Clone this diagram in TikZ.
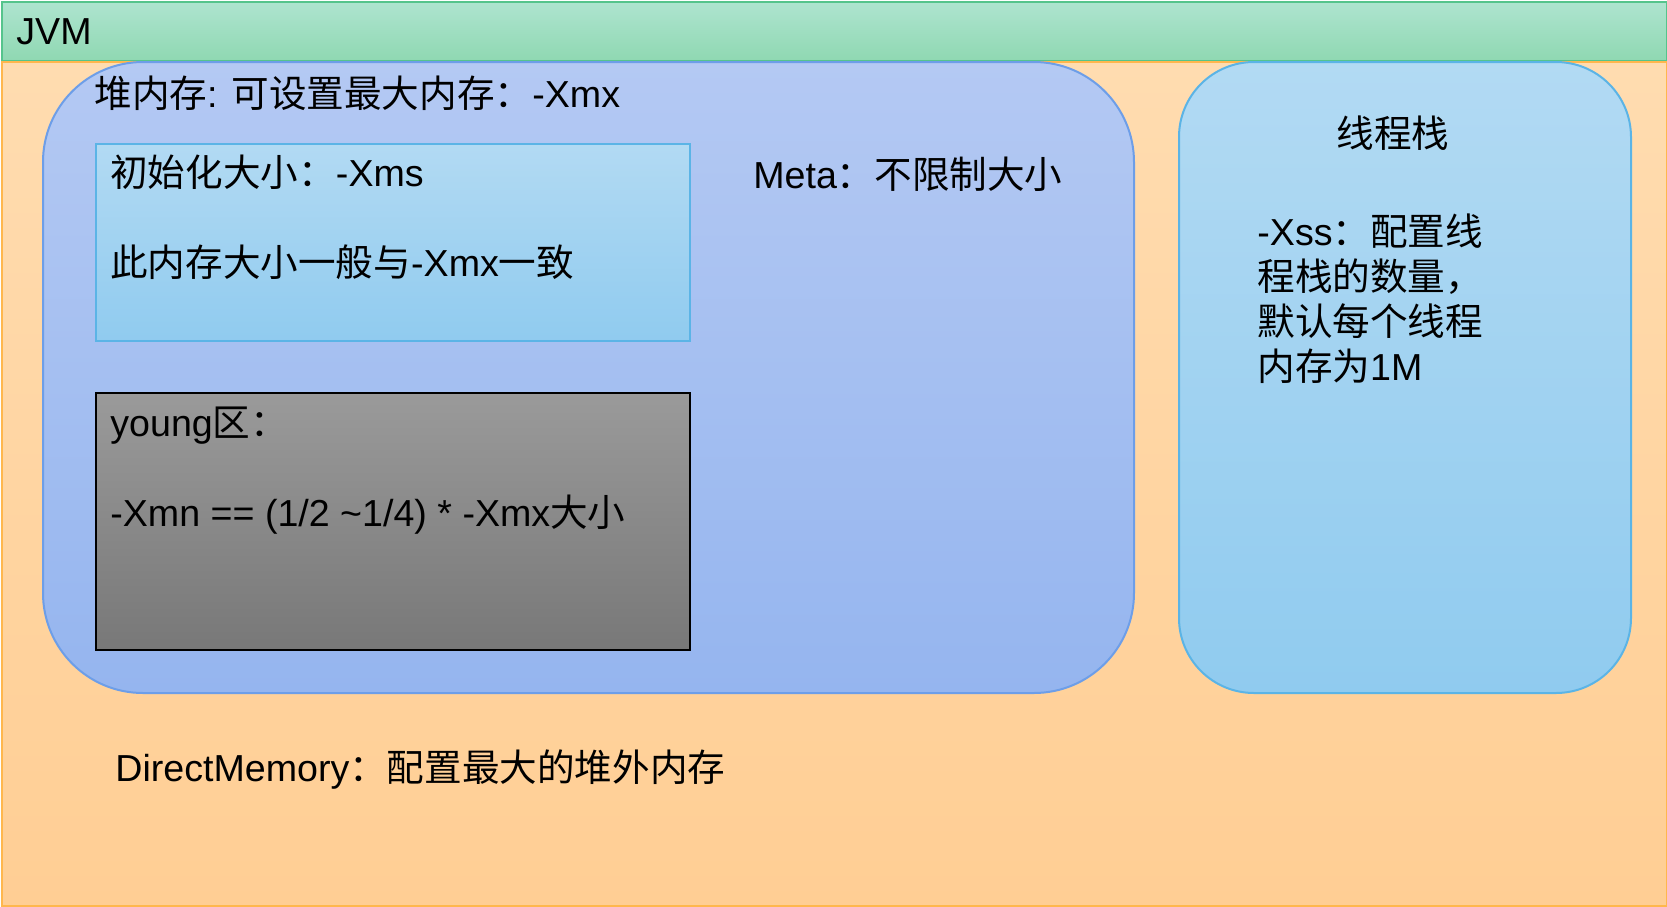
\documentclass[tikz,border=0pt]{standalone}
\usepackage{fontspec}
\setmainfont{Liberation Sans}
\newfontfamily\cjk{Noto Sans CJK SC}
\newcommand{\zht}[1]{{\cjk #1}}
\usetikzlibrary{positioning}
\definecolor{cmintT}{HTML}{AEE4CF}
\definecolor{cmintB}{HTML}{8FD8B2}
\definecolor{cmintD}{HTML}{55C48C}
\definecolor{corangeT}{HTML}{FFDCB0}
\definecolor{corangeB}{HTML}{FFCE94}
\definecolor{corangeD}{HTML}{FFB74D}
\definecolor{cheapT}{HTML}{B4C9F3}
\definecolor{cheapB}{HTML}{95B5EF}
\definecolor{cheapD}{HTML}{6D9EE8}
\definecolor{cskyT}{HTML}{B2DAF3}
\definecolor{cskyB}{HTML}{90CBEF}
\definecolor{cskyD}{HTML}{5BB4E6}
\definecolor{cgreyT}{HTML}{9A9A9A}
\definecolor{cgreyB}{HTML}{787878}
\tikzset{
  every picture/.style={x=0.5pt, y=-0.5pt, font=\fontsize{18.8}{22.5}\selectfont},
  zone/.style={draw=#1, line width=1pt, anchor=north west, inner sep=0pt},
  txt/.style={anchor=base west, inner sep=0pt, text=black},
}
\begin{document}
\begin{tikzpicture}
  \useasboundingbox (0,0) rectangle (1667,906);
  % outer frame
  \node[zone=cmintD, top color=cmintT, bottom color=cmintB, minimum width=832.5pt, minimum height=29.5pt] (jvmbar) at (1,1) {};
  \node[zone=corangeD, top color=corangeT, bottom color=corangeB, minimum width=832.5pt, minimum height=422pt] (jvmbody) at (1,61) {};
  % heap and stack
  \node[zone=cheapD, top color=cheapT, bottom color=cheapB, rounded corners=50pt, minimum width=545.5pt, minimum height=315.5pt] (heap) at (42,61) {};
  \node[zone=cskyD, top color=cskyT, bottom color=cskyB, rounded corners=37.5pt, minimum width=226pt, minimum height=315.5pt] (stack) at (1178,61) {};
  \node[zone=cskyD, top color=cskyT, bottom color=cskyB, minimum width=297pt, minimum height=98.5pt] (init) at (95,143) {};
  \node[zone=black, line width=1.2pt, top color=cgreyT, bottom color=cgreyB, minimum width=297pt, minimum height=128.5pt] (young) at (95,392) {};
  % texts
  \node[txt] (jvm) at (16,44) {JVM};
  \node[txt] (heaptitle) at (94,107) {\zht{堆内存}: \zht{可设置最大内存：}-Xmx};
  \node[txt] (init1) at (110,186) {\zht{初始化大小：}-Xms};
  \node[txt] (init2) at (110,276) {\zht{此内存大小一般与}-Xmx\zht{一致}};
  \node[txt] (meta) at (753,188) {Meta\zht{：不限制大小}};
  \node[txt] (young1) at (110,436) {young\zht{区：}};
  \node[txt] (young2) at (110,526) {-Xmn == (1/2 \textasciitilde1/4) * -Xmx\zht{大小}};
  \node[txt, anchor=base] (stacktitle) at (1393,147) {\zht{线程栈}};
  \foreach \i/\t in {0/{-Xss\zht{：配置线}}, 1/{\zht{程栈的数量，}}, 2/{\zht{默认每个线程}}, 3/{\zht{内存为}1M}} {
    \pgfmathsetmacro{\y}{245+45*\i}
    \node[txt] (xss\i) at (1257,\y) {\t};
  }
  \node[txt] (direct) at (115,781) {DirectMemory\zht{：配置最大的堆外内存}};
\end{tikzpicture}
\end{document}
